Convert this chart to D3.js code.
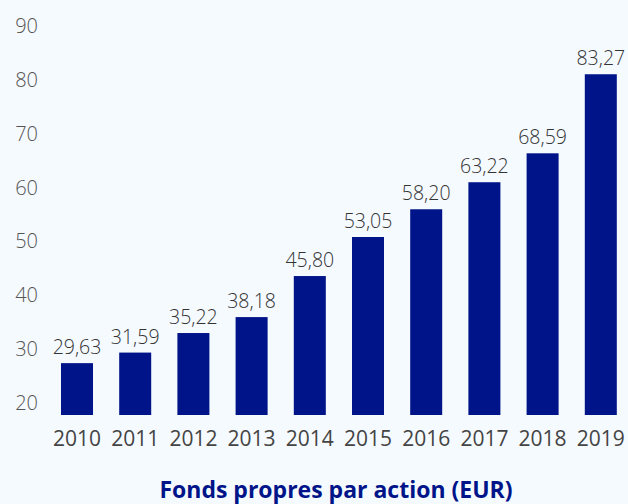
<!DOCTYPE html>
<html>
<head>
<meta charset="utf-8">
<script src="https://cdn.jsdelivr.net/npm/d3@7"></script>
<style>
  body { margin: 0; background: #f5faff; }
  svg { display: block; font-family: "Open Sans", sans-serif; }
</style>
</head>
<body>
<div id="vis"></div>
<script>
const width = 628;
const height = 504;

const years = ["2010", "2011", "2012", "2013", "2014", "2015", "2016", "2017", "2018", "2019"];
const values = [29.63, 31.59, 35.22, 38.18, 45.80, 53.05, 58.20, 63.22, 68.59, 83.27];
const yTicks = [20, 30, 40, 50, 60, 70, 80, 90];
const title = "Fonds propres par action (EUR)";

const barColor = "#001489";
const textColor = "#444";

const svg = d3.select("#vis")
    .append("svg")
    .attr("width", width)
    .attr("height", height);

svg.append("rect")
    .attr("width", width)
    .attr("height", height)
    .attr("fill", "#f5faff");

const y = d3.scaleLinear().domain([20, 90]).range([415, 38]);

const x = d3.scaleBand()
    .domain(years)
    .range([47.9, 629.9])
    .paddingInner(0.45)
    .paddingOuter(0.225);

// y tick labels (no axis line, labels sit a bit above the value)
svg.append("g")
    .selectAll("text")
    .data(yTicks)
    .enter()
    .append("text")
    .attr("x", 38)
    .attr("y", d => y(d) - 5)
    .attr("text-anchor", "end")
    .style("font-size", "20px")
    .style("font-weight", 300)
    .style("fill", "#555")
    .text(d => d);

// bars
svg.append("g")
    .selectAll("rect")
    .data(values)
    .enter()
    .append("rect")
    .attr("x", (d, i) => x(years[i]))
    .attr("y", d => y(d))
    .attr("width", x.bandwidth())
    .attr("height", d => y(20) - y(d))
    .attr("fill", barColor);

// value labels
svg.append("g")
    .selectAll("text")
    .data(values)
    .enter()
    .append("text")
    .attr("x", (d, i) => x(years[i]) + x.bandwidth() / 2)
    .attr("y", d => y(d) - 9)
    .attr("text-anchor", "middle")
    .style("font-size", "19.5px")
    .style("font-weight", 300)
    .style("fill", "#333")
    .text(d => d.toFixed(2).replace(".", ","));

// year labels
svg.append("g")
    .selectAll("text")
    .data(years)
    .enter()
    .append("text")
    .attr("x", d => x(d) + x.bandwidth() / 2)
    .attr("y", 446)
    .attr("text-anchor", "middle")
    .style("font-size", "21px")
    .style("fill", textColor)
    .text(d => d);

svg.append("text")
    .attr("x", 336)
    .attr("y", 498)
    .attr("text-anchor", "middle")
    .style("font-size", "23px")
    .style("font-weight", "bold")
    .style("fill", barColor)
    .text(title);
</script>
</body>
</html>
